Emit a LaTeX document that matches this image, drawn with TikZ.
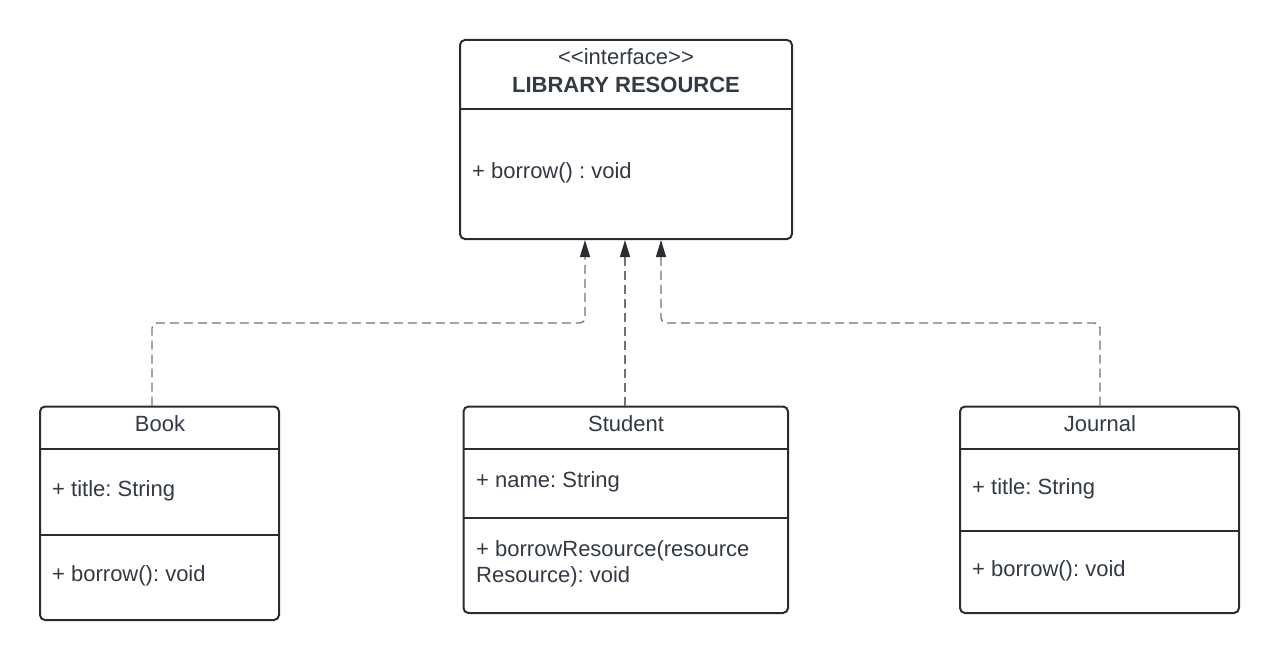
\documentclass[tikz,border=0pt]{standalone}
\usepackage{fontspec}
\setmainfont{Liberation Sans}
\usetikzlibrary{arrows.meta}
\frenchspacing
\definecolor{txt}{HTML}{333A45}
\definecolor{edge}{HTML}{282C33}
\definecolor{dash}{HTML}{6E747D}
\tikzset{
  classbox/.style={draw=edge, line width=2pt, rounded corners=5pt, fill=white},
  divider/.style={draw=edge, line width=2pt},
  lbl/.style={inner sep=0pt, text=txt, font=\fontsize{22}{26}\selectfont, text height=1.3em, text depth=0em},
  lblw/.style={lbl, anchor=west},
  realize/.style={draw=dash, line width=1.3pt, dash pattern=on 9pt off 5pt, rounded corners=5pt,
    -{Triangle[length=17pt,width=10pt,color=edge,fill=edge]}},
}
\begin{document}
\begin{tikzpicture}[x=1pt,y=-1pt]
\useasboundingbox (0,0) rectangle (1280,661);
% interface
\draw[classbox] (460,40) rectangle (792,239);
\draw[divider] (460,108.5) -- (792,108.5);
\node[lbl] (libst) at (626,58) {{<}{<}interface{>}{>}};
\node[lbl, font=\fontsize{22}{26}\selectfont\bfseries] (libname) at (626,86) {LIBRARY RESOURCE};
\node[lblw] (libop) at (472,172) {+ borrow() : void};
% Book
\draw[classbox] (40,406.5) rectangle (279,620);
\draw[divider] (40,448.5) -- (279,448.5);
\draw[divider] (40,535) -- (279,535);
\node[lbl] (bookname) at (160,425) {Book};
\node[lblw] (bookattr) at (52,490) {+ title: String};
\node[lblw] (bookop) at (52,575) {+ borrow(): void};
% Student
\draw[classbox] (463.5,406.5) rectangle (788,613);
\draw[divider] (463.5,448.5) -- (788,448.5);
\draw[divider] (463.5,518) -- (788,518);
\node[lbl] (stname) at (626,425) {Student};
\node[lblw] (stattr) at (476,481) {+ name: String};
\node[lblw] (stop1) at (476,550) {+ borrowResource(resource};
\node[lblw] (stop2) at (476,576) {Resource): void};
% Journal
\draw[classbox] (960,406.5) rectangle (1239,613);
\draw[divider] (960,448.5) -- (1239,448.5);
\draw[divider] (960,531) -- (1239,531);
\node[lbl] (jname) at (1100,425) {Journal};
\node[lblw] (jattr) at (972,488) {+ title: String};
\node[lblw] (jop) at (972,570) {+ borrow(): void};
% connector end points
\coordinate (bookTop) at (152,405.5);
\coordinate (stTop) at (625,405.5);
\coordinate (jTop) at (1100,405.5);
\coordinate (tipL) at (585,240);
\coordinate (tipC) at (625,240);
\coordinate (tipR) at (661,240);
\draw[realize] (bookTop) -- (152,323) -- (585,323) -- (tipL);
\draw[realize] (stTop) -- (tipC);
\draw[realize] (jTop) -- (1100,323) -- (661,323) -- (tipR);
\end{tikzpicture}
\end{document}
